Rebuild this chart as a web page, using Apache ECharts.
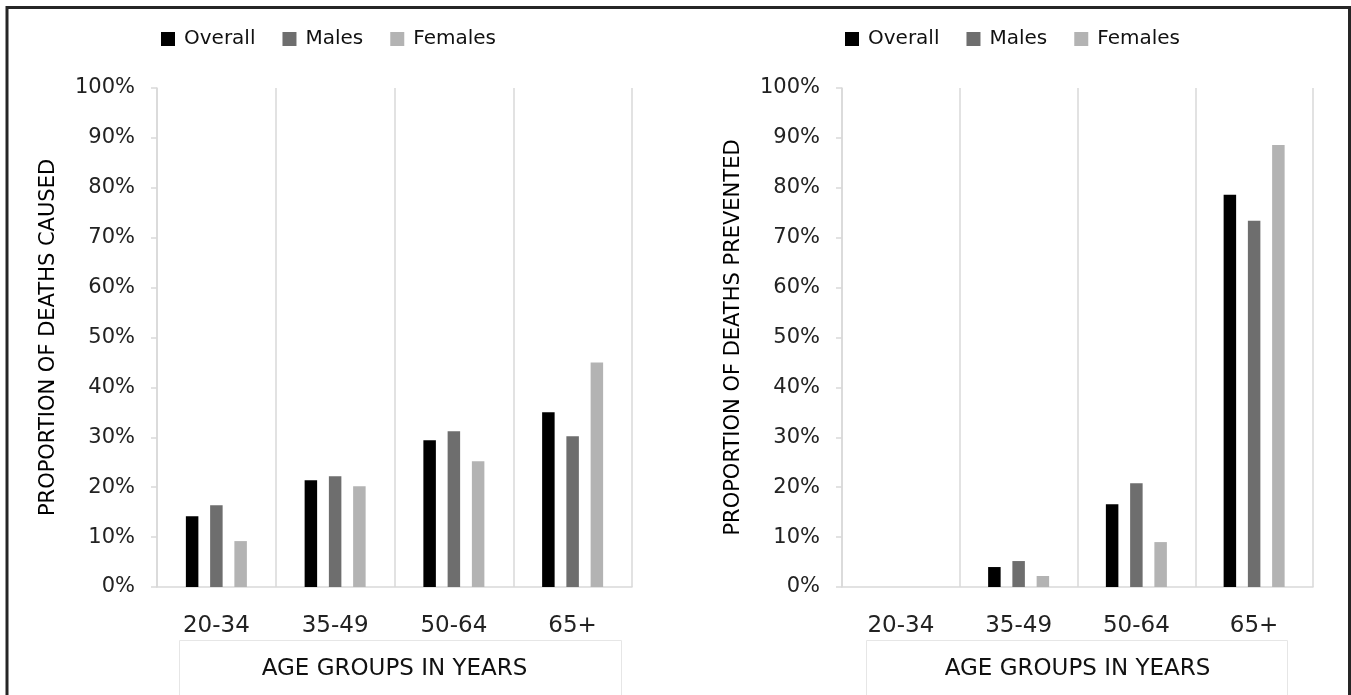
<!DOCTYPE html>
<html>
<head>
<meta charset="utf-8">
<script src="https://cdn.jsdelivr.net/npm/echarts@6/dist/echarts.min.js"></script>
<style>
html,body{margin:0;padding:0;background:#fff;}
#c{width:1351px;height:695px;}
</style>
</head>
<body>
<div id="c"></div>
<script>
const categories = ['20-34', '35-49', '50-64', '65+'];
const seriesNames = ['Overall', 'Males', 'Females'];
// Left panel: proportion of deaths caused (%)
const causedOverall = [14.2, 21.4, 29.4, 35.0];
const causedMales = [16.4, 22.2, 31.2, 30.2];
const causedFemales = [9.2, 20.2, 25.2, 45.0];
// Right panel: proportion of deaths prevented (%)
const preventedOverall = [0, 4.0, 16.6, 78.6];
const preventedMales = [0, 5.2, 20.8, 73.4];
const preventedFemales = [0, 2.2, 9.0, 88.6];
const yTicks = { min: 0, max: 100, interval: 10 };
const leftYTitle = 'PROPORTION OF DEATHS CAUSED';
const rightYTitle = 'PROPORTION OF DEATHS PREVENTED';
const xTitle = 'AGE GROUPS IN YEARS';

const colors = ['#000000', '#6e6e6e', '#b3b3b3'];
const FONT = 'DejaVu Sans';
const gridLine = '#d9d9d9';

const chart = echarts.init(document.getElementById('c'), null, { renderer: 'canvas' });

function xAxisFor(idx) {
  return {
    type: 'category', gridIndex: idx, data: categories,
    axisLine: { show: true, lineStyle: { color: gridLine, width: 1.5 } },
    axisTick: { show: false },
    splitLine: { show: true, lineStyle: { color: gridLine, width: 1.5 } },
    axisLabel: { color: '#222', fontFamily: FONT, fontSize: 23, margin: 28 },
    name: xTitle, nameLocation: 'middle', nameGap: 71,
    nameTextStyle: { color: '#111', fontFamily: FONT, fontSize: 23 }
  };
}
function yAxisFor(idx, title) {
  return {
    type: 'value', gridIndex: idx, min: yTicks.min, max: yTicks.max, interval: yTicks.interval,
    axisLine: { show: true, lineStyle: { color: gridLine, width: 1.5 } },
    axisTick: { show: true, length: 6, lineStyle: { color: gridLine, width: 1.5 } },
    splitLine: { show: false },
    axisLabel: { color: '#222', fontFamily: FONT, fontSize: 21, margin: 22, formatter: '{value}%' },
    name: title, nameLocation: 'middle', nameGap: 98, nameRotate: 90,
    nameTextStyle: { color: '#000', fontFamily: FONT, fontSize: 21 }
  };
}
function barSeries(name, data, idx, color) {
  return {
    type: 'bar', name: name, data: data, xAxisIndex: idx, yAxisIndex: idx,
    barWidth: 12.5, barGap: '94%', itemStyle: { color: color }, silent: true
  };
}
function legendFor(left) {
  return {
    left: left, top: 24, itemWidth: 14, itemHeight: 14, itemGap: 27,
    icon: 'rect', data: seriesNames,
    textStyle: { color: '#111', fontFamily: FONT, fontSize: 20, padding: [0, 0, 0, 4] }
  };
}

const option = {
  backgroundColor: '#ffffff',
  animation: false,
  color: colors,
  legend: [legendFor(156), legendFor(840)],
  grid: [
    { left: 157, right: 1351 - 632, top: 88, height: 499 },
    { left: 842, right: 1351 - 1313, top: 88, height: 499 }
  ],
  xAxis: [xAxisFor(0), xAxisFor(1)],
  yAxis: [yAxisFor(0, leftYTitle), yAxisFor(1, rightYTitle)],
  series: [
    barSeries(seriesNames[0], causedOverall, 0, colors[0]),
    barSeries(seriesNames[1], causedMales, 0, colors[1]),
    barSeries(seriesNames[2], causedFemales, 0, colors[2]),
    barSeries(seriesNames[0], preventedOverall, 1, colors[0]),
    barSeries(seriesNames[1], preventedMales, 1, colors[1]),
    barSeries(seriesNames[2], preventedFemales, 1, colors[2])
  ],
  graphic: [
    { type: 'rect', shape: { x: 179.5, y: 640.5, width: 442, height: 60 }, style: { fill: 'none', stroke: '#e6e6e6', lineWidth: 1 }, z: -1 },
    { type: 'rect', shape: { x: 866.5, y: 640.5, width: 421, height: 60 }, style: { fill: 'none', stroke: '#e6e6e6', lineWidth: 1 }, z: -1 },
    { type: 'polyline', shape: { points: [[7, 700], [7, 7.5], [1349.5, 7.5], [1349.5, 700]] }, style: { fill: 'none', stroke: '#262626', lineWidth: 3 }, z: 10 }
  ]
};
chart.setOption(option);
</script>
</body>
</html>
